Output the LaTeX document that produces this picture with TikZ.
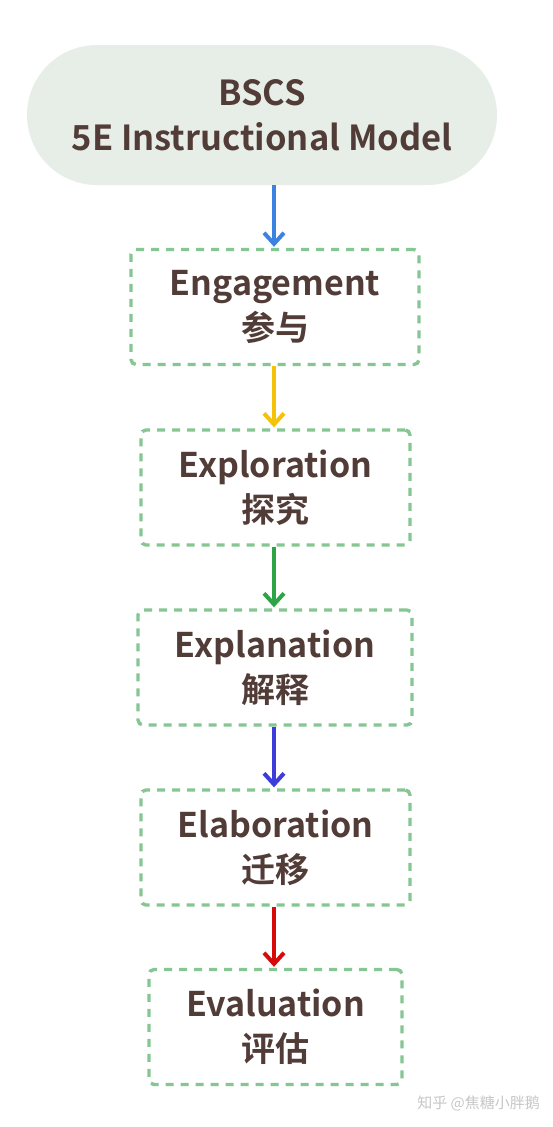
\documentclass[tikz,border=0pt]{standalone}
\usepackage{fontspec}
\setmainfont{Noto Sans CJK SC}[BoldFont={* Bold}]
\usetikzlibrary{arrows.meta}
\definecolor{txt}{HTML}{523C38}
\definecolor{pill}{HTML}{E6EEE7}
\definecolor{dash}{HTML}{86C693}
\definecolor{cblue}{HTML}{3C82E0}
\definecolor{cyellow}{HTML}{F5C20A}
\definecolor{cgreen}{HTML}{2EA446}
\definecolor{cindigo}{HTML}{3D3DDB}
\definecolor{cred}{HTML}{D60A0A}
\tikzset{
  x=1pt, y=-1pt,
  stagebox/.style={draw=dash, line width=3.4pt, dash pattern=on 8pt off 7pt, rounded corners=5pt, minimum height=115pt, align=center, text=txt, font=\bfseries\fontsize{34}{45}\selectfont, inner sep=0pt},
  flow/.style={line width=4pt, -{Straight Barb[length=11pt,width=20pt,line width=4pt]}, shorten >=1pt},
}
\begin{document}
\begin{tikzpicture}
\useasboundingbox (0,0) rectangle (552,1127);
\fill[white] (0,0) rectangle (552,1127);
\node[fill=pill, rounded corners=70pt, minimum width=470pt, minimum height=140pt, align=center, text=txt, font=\bfseries\fontsize{34.5}{45}\selectfont, inner sep=0pt] (top) at (262,115) {BSCS\\5E Instructional Model};
\node[stagebox, minimum width=288pt] (s1) at (275,307) {Engagement\\参与};
\node[stagebox, minimum width=269pt] (s2) at (275.5,487.5) {Exploration\\探究};
\node[stagebox, minimum width=274pt] (s3) at (275,667.5) {Explanation\\解释};
\node[stagebox, minimum width=269pt] (s4) at (275.5,847.5) {Elaboration\\迁移};
\node[stagebox, minimum width=253pt] (s5) at (275.5,1027) {Evaluation\\评估};
\draw[flow, cblue] (top.south -| 274,0) -- (s1.north -| 274,0);
\draw[flow, cyellow] (s1.south -| 274,0) -- (s2.north -| 274,0);
\draw[flow, cgreen] (s2.south -| 274,0) -- (s3.north -| 274,0);
\draw[flow, cindigo] (s3.south -| 274,0) -- (s4.north -| 274,0);
\draw[flow, cred] (s4.south -| 274,0) -- (s5.north -| 274,0);
\node[text=black!22, font=\fontsize{15}{16}\selectfont, anchor=east, inner sep=0pt] (wm) at (540,1103) {知乎 @焦糖小胖鹅};
\end{tikzpicture}
\end{document}
